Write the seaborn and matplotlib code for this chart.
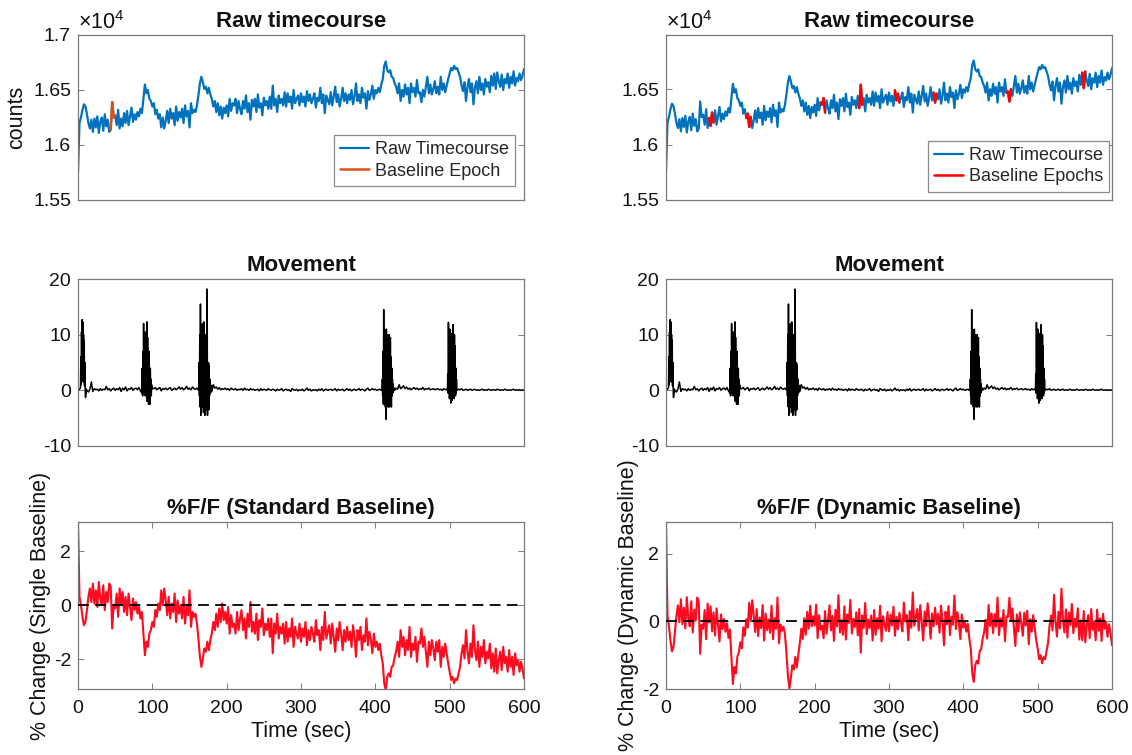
import numpy as np
import pandas as pd
import matplotlib
matplotlib.use("Agg")
import matplotlib.pyplot as plt
import seaborn as sns
from matplotlib.ticker import FuncFormatter

# ---------------- data ----------------
time_step = 2.0  # seconds between samples

raw_counts = [
    15750, 16200, 16250, 16320, 16370, 16350, 16280, 16200, 16150, 16230,
    16120, 16240, 16160, 16260, 16110, 16210, 16250, 16130, 16280, 16170,
    16230, 16120, 16140, 16390, 16250, 16270, 16180, 16320, 16150, 16240,
    16170, 16290, 16200, 16310, 16180, 16260, 16340, 16210, 16280, 16230,
    16300, 16260, 16330, 16290, 16420, 16550, 16470, 16500, 16420, 16400,
    16350, 16380, 16280, 16320, 16240, 16280, 16160, 16250, 16150, 16220,
    16310, 16200, 16330, 16240, 16290, 16180, 16350, 16220, 16300, 16250,
    16330, 16200, 16360, 16260, 16310, 16160, 16380, 16290, 16320, 16300,
    16360, 16450, 16560, 16620, 16570, 16510, 16530, 16470, 16520, 16460,
    16420, 16350, 16400, 16300, 16380, 16270, 16350, 16240, 16340, 16290,
    16360, 16260, 16420, 16310, 16380, 16360, 16420, 16290, 16400, 16330,
    16280, 16400, 16330, 16450, 16300, 16380, 16230, 16410, 16350, 16420,
    16300, 16460, 16340, 16380, 16270, 16430, 16360, 16400, 16330, 16440,
    16330, 16540, 16360, 16420, 16300, 16450, 16380, 16420, 16360, 16480,
    16350, 16470, 16390, 16440, 16330, 16500, 16380, 16420, 16450, 16360,
    16470, 16390, 16440, 16350, 16490, 16400, 16460, 16380, 16420, 16470,
    16340, 16430, 16400, 16520, 16380, 16460, 16290, 16450, 16410, 16370,
    16480, 16360, 16440, 16530, 16390, 16460, 16350, 16420, 16520, 16400,
    16470, 16380, 16460, 16410, 16500, 16370, 16440, 16560, 16400, 16460,
    16380, 16520, 16430, 16470, 16330, 16490, 16410, 16460, 16540, 16420,
    16500, 16470, 16520, 16480, 16550, 16600, 16720, 16760, 16680, 16660,
    16680, 16620, 16610, 16560, 16530, 16470, 16560, 16400, 16500, 16440,
    16550, 16460, 16520, 16380, 16560, 16480, 16520, 16440, 16590, 16470,
    16480, 16390, 16500, 16440, 16530, 16620, 16470, 16550, 16460, 16510,
    16580, 16470, 16530, 16460, 16620, 16500, 16560, 16480, 16540, 16600,
    16650, 16700, 16680, 16720, 16690, 16700, 16660, 16620, 16540, 16490,
    16570, 16400, 16530, 16600, 16480, 16560, 16370, 16520, 16580, 16470,
    16620, 16500, 16560, 16460, 16600, 16530, 16570, 16480, 16630, 16540,
    16650, 16510, 16660, 16580, 16530, 16640, 16500, 16600, 16560, 16650,
    16520, 16620, 16560, 16670, 16540, 16610, 16580, 16650, 16590, 16630,
    16690,
]

dff_standard = [
    3.08, 0.31, 0.00, -0.43, -0.74, -0.62, -0.18, 0.31, 0.62, 0.12,
    0.80, 0.06, 0.55, -0.06, 0.86, 0.25, 0.00, 0.74, -0.18, 0.49,
    0.12, 0.80, 0.68, -0.86, 0.00, -0.12, 0.43, -0.43, 0.62, 0.06,
    0.49, -0.25, 0.31, -0.37, 0.43, -0.06, -0.55, 0.25, -0.18, 0.12,
    -0.31, -0.06, -0.49, -0.25, -1.05, -1.85, -1.35, -1.54, -1.05, -0.92,
    -0.62, -0.80, -0.18, -0.43, 0.06, -0.18, 0.55, 0.00, 0.62, 0.18,
    -0.37, 0.31, -0.49, 0.06, -0.25, 0.43, -0.62, 0.18, -0.31, 0.00,
    -0.49, 0.31, -0.68, -0.06, -0.37, 0.55, -0.80, -0.25, -0.43, -0.31,
    -0.68, -1.23, -1.91, -2.28, -1.97, -1.60, -1.72, -1.35, -1.66, -1.29,
    -1.05, -0.62, -0.92, -0.31, -0.80, -0.12, -0.62, 0.06, -0.55, -0.25,
    -0.68, -0.06, -1.05, -0.37, -0.80, -0.68, -1.05, -0.25, -0.92, -0.49,
    -0.18, -0.92, -0.49, -1.23, -0.31, -0.80, 0.12, -0.98, -0.62, -1.05,
    -0.31, -1.29, -0.55, -0.80, -0.12, -1.11, -0.68, -0.92, -0.49, -1.17,
    -0.49, -1.78, -0.68, -1.05, -0.31, -1.23, -0.80, -1.05, -0.68, -1.42,
    -0.62, -1.35, -0.86, -1.17, -0.49, -1.54, -0.80, -1.05, -1.23, -0.68,
    -1.35, -0.86, -1.17, -0.62, -1.48, -0.92, -1.29, -0.80, -1.05, -1.35,
    -0.55, -1.11, -0.92, -1.66, -0.80, -1.29, -0.25, -1.23, -0.98, -0.74,
    -1.42, -0.68, -1.17, -1.72, -0.86, -1.29, -0.62, -1.05, -1.66, -0.92,
    -1.35, -0.80, -1.29, -0.98, -1.54, -0.74, -1.17, -1.91, -0.92, -1.29,
    -0.80, -1.66, -1.11, -1.35, -0.49, -1.48, -0.98, -1.29, -1.78, -1.05,
    -1.54, -1.35, -1.66, -1.42, -1.85, -2.15, -2.89, -3.14, -2.65, -2.52,
    -2.65, -2.28, -2.22, -1.91, -1.72, -1.35, -1.91, -0.92, -1.54, -1.17,
    -1.85, -1.29, -1.66, -0.80, -1.91, -1.42, -1.66, -1.17, -2.09, -1.35,
    -1.42, -0.86, -1.54, -1.17, -1.72, -2.28, -1.35, -1.85, -1.29, -1.60,
    -2.03, -1.35, -1.72, -1.29, -2.28, -1.54, -1.91, -1.42, -1.78, -2.15,
    -2.46, -2.77, -2.65, -2.89, -2.71, -2.77, -2.52, -2.28, -1.78, -1.48,
    -1.97, -0.92, -1.72, -2.15, -1.42, -1.91, -0.74, -1.66, -2.03, -1.35,
    -2.28, -1.54, -1.91, -1.29, -2.15, -1.72, -1.97, -1.42, -2.34, -1.78,
    -2.46, -1.60, -2.52, -2.03, -1.72, -2.40, -1.54, -2.15, -1.91, -2.46,
    -1.66, -2.28, -1.91, -2.58, -1.78, -2.22, -2.03, -2.46, -2.09, -2.34,
    -2.71,
]

dff_dynamic = [
    2.93, 0.16, -0.15, -0.58, -0.89, -0.77, -0.33, 0.16, 0.47, -0.03,
    0.65, -0.09, 0.40, -0.21, 0.71, 0.10, -0.15, 0.59, -0.33, 0.34,
    0.02, 0.70, 0.58, -0.96, -0.10, -0.22, 0.33, -0.53, 0.52, -0.04,
    0.44, -0.30, 0.26, -0.42, 0.38, -0.11, -0.60, 0.20, -0.23, 0.07,
    -0.31, -0.06, -0.49, -0.25, -1.05, -1.85, -1.35, -1.54, -1.05, -0.92,
    -0.62, -0.80, -0.18, -0.43, 0.06, -0.18, 0.55, 0.00, 0.62, 0.18,
    -0.32, 0.36, -0.44, 0.11, -0.20, 0.48, -0.57, 0.23, -0.26, 0.05,
    -0.34, 0.46, -0.53, 0.09, -0.22, 0.70, -0.65, -0.10, -0.28, -0.16,
    -0.38, -0.93, -1.61, -1.98, -1.67, -1.30, -1.42, -1.05, -1.36, -0.99,
    -0.65, -0.22, -0.52, 0.09, -0.40, 0.28, -0.22, 0.46, -0.15, 0.15,
    -0.13, 0.49, -0.50, 0.18, -0.25, -0.13, -0.50, 0.30, -0.37, 0.06,
    0.47, -0.27, 0.16, -0.58, 0.34, -0.15, 0.77, -0.33, 0.03, -0.40,
    0.44, -0.54, 0.20, -0.05, 0.63, -0.36, 0.07, -0.17, 0.26, -0.42,
    0.36, -0.93, 0.17, -0.20, 0.54, -0.38, 0.05, -0.20, 0.17, -0.57,
    0.33, -0.40, 0.09, -0.22, 0.46, -0.59, 0.15, -0.10, -0.28, 0.27,
    -0.30, 0.19, -0.12, 0.43, -0.43, 0.13, -0.24, 0.25, 0.00, -0.30,
    0.55, -0.01, 0.18, -0.56, 0.30, -0.19, 0.85, -0.13, 0.12, 0.36,
    -0.27, 0.47, -0.02, -0.57, 0.29, -0.14, 0.53, 0.10, -0.51, 0.23,
    -0.15, 0.40, -0.09, 0.22, -0.34, 0.46, 0.03, -0.71, 0.28, -0.09,
    0.45, -0.41, 0.14, -0.10, 0.76, -0.23, 0.27, -0.04, -0.53, 0.20,
    -0.19, 0.00, -0.31, -0.07, -0.50, -0.80, -1.54, -1.79, -1.30, -1.17,
    -1.25, -0.88, -0.82, -0.51, -0.32, 0.05, -0.51, 0.48, -0.14, 0.23,
    -0.35, 0.21, -0.16, 0.70, -0.41, 0.08, -0.16, 0.33, -0.59, 0.15,
    0.13, 0.69, 0.01, 0.38, -0.17, -0.73, 0.20, -0.30, 0.26, -0.05,
    -0.43, 0.25, -0.12, 0.31, -0.68, 0.06, -0.31, 0.18, -0.18, -0.55,
    -0.81, -1.12, -1.00, -1.24, -1.06, -1.12, -0.87, -0.63, -0.13, 0.17,
    -0.27, 0.78, -0.02, -0.45, 0.28, -0.21, 0.96, 0.04, -0.33, 0.35,
    -0.48, 0.26, -0.11, 0.51, -0.35, 0.08, -0.17, 0.38, -0.54, 0.02,
    -0.56, 0.30, -0.62, -0.13, 0.18, -0.50, 0.36, -0.25, -0.01, -0.56,
    0.34, -0.28, 0.09, -0.58, 0.22, -0.22, -0.03, -0.46, -0.09, -0.34,
    -0.71,
]

movement_base = [
    0.0, 0.2, 0.0, 0.0, 0.0, 0.0, 0.1, -0.3, 0.2, 1.5,
    -0.2, 0.3, 0.1, 0.2, -0.1, 0.3, 0.0, 0.2, 0.1, 0.7,
    0.1, 0.3, -0.1, 0.2, 0.4, 0.0, 0.3, 0.1, 0.5, -0.2,
    0.4, 0.1, 0.6, -0.1, 0.3, 0.2, 0.5, 0.0, 0.3, 0.4,
    0.1, 0.5, -0.1, 0.3, 0.0, 0.0, 0.0, 0.0, 0.0, 0.0,
    0.8, 0.3, 0.5, 0.1, 0.3, 0.5, -0.1, 0.3, 0.2, 0.4,
    0.1, 0.3, 0.5, 0.0, 0.2, 0.4, 0.1, 0.3, 0.6, 0.2,
    0.5, 0.1, 0.3, 0.7, 0.2, 0.4, 0.1, 0.6, 0.3, 0.2,
    0.4, 0.1, 0.0, 0.0, 0.0, 0.0, 0.0, 0.0, 0.0, 0.0,
    0.3, 1.0, 0.4, 0.6, 0.2, 0.5, 0.1, 0.3, 0.2, 0.4,
    0.1, 0.3, 0.0, 0.4, 0.2, 0.1, 0.3, 0.0, 0.2, 0.1,
    0.3, 0.0, 0.4, 0.1, 0.2, 0.0, 0.3, 0.1, 0.2, 0.0,
    0.1, 0.2, -0.1, 0.3, 0.0, 0.2, 0.1, 0.0, 0.3, 0.1,
    0.0, 0.2, 0.1, -0.1, 0.2, 0.0, 0.1, 0.3, -0.1, 0.1,
    0.2, 0.0, 0.1, -0.2, 0.3, 0.1, 0.0, 0.2, -0.1, 0.1,
    0.0, 0.2, -0.1, 0.1, 0.4, 0.0, 0.2, -0.1, 0.1, 0.0,
    0.1, -0.1, 0.2, 0.0, 0.3, -0.1, 0.1, 0.2, 0.0, 0.1,
    0.2, 0.0, 0.1, 0.3, -0.1, 0.2, 0.0, 0.1, 0.2, -0.1,
    0.1, 0.3, 0.0, 0.2, -0.1, 0.1, 0.2, 0.0, 0.1, 0.3,
    0.0, 0.2, 0.1, -0.1, 0.2, 0.4, 0.0, 0.1, 0.3, 0.1,
    0.2, 0.0, 0.1, 0.2, 0.0, 0.0, 0.0, 0.0, 0.0, 0.0,
    0.0, 0.0, 0.0, 0.0, 0.4, 0.2, 1.0, 0.3, 0.5, 0.8,
    0.3, 0.6, 0.2, 0.4, 0.1, 0.3, 0.5, 0.2, 0.4, 0.1,
    0.3, 0.2, 0.5, 0.1, 0.3, 0.2, 0.4, 0.1, 0.2, 0.3,
    0.1, 0.2, 0.3, 0.1, 0.2, 0.0, 0.3, 0.1, 0.2, 0.1,
    0.0, 0.0, 0.0, 0.0, 0.0, 0.0, 0.2, 0.1, 0.3, 0.0,
    0.1, 0.2, 0.0, 0.1, 0.2, 0.0, 0.1, 0.2, 0.0, 0.1,
    0.0, 0.1, 0.2, 0.0, 0.1, 0.0, 0.2, 0.1, 0.0, 0.1,
    0.1, 0.0, 0.2, 0.1, 0.0, 0.1, 0.0, 0.2, 0.1, 0.0,
    0.1, 0.0, 0.1, 0.2, 0.0, 0.1, 0.0, 0.1, 0.0, 0.1,
    0.0,
]

burst_step = 0.45
burst_starts = [3.4, 86.0, 162.5, 409.0, 497.0]
burst_a = [0.5, 6, 1, 10.5, 2, 12.7, 3, 12.3, 1.5, 10, 2, 9, 0.8, 5, 0.2, -1.3, 0.3, -0.5, 0.1]
burst_b = [-0.5, 4, -1, 7, 0.5, 12, -0.5, 9, 2, 10.5, -1, 6, 3, 8, 0, 12.3, -2, 9.5, -1.5, 5,
           -2.5, 7, 0, 3, -2.5, 4, 1, 2, -1, 1, 0.3]
burst_c = [0, 5, -1, 10, -3, 15.5, -4.5, 11, -2, 9, -3, 12, -1, 10.5, -4, 12.3, -2, 8, -4.5, 6,
           -3, 10, -1, 8, -3.5, 18.2, -4.5, 3, -2, 5, -3.5, 4.5, -1, 2, -0.5, 1, 0, 0.5, -0.3, 0.8, 0]
burst_d = [0, 2, -1, 7, -2.5, 14.5, -1, 11, 3, 10.5, -3, 9, -5.2, 11, -2, 10, -1, 9.5, -3, 8,
           -1.5, 10, -3, 7, -1, 9.5, -2, 6, -3, 4, -1, 2, -0.5, 1.2, 0, 0.5, 0]
burst_e = [0, 3, -0.5, 12.2, 1, 9, -1.5, 11, 0, 10, -2.3, 8, -1, 10.2, -1.8, 9, 0.5, 11.8, 0, 7,
           -1.5, 10, -0.5, 8, -1, 4, -0.5, 2, 0.3, 0]
burst_values = [burst_a, burst_b, burst_c, burst_d, burst_e]

epoch_single = [(44, 50)]
epochs_dynamic = [(58, 64), (108, 114), (208, 214), (260, 264), (308, 314),
                  (360, 364), (458, 464), (560, 564)]

# ---------------- assemble tables ----------------
t = np.arange(len(raw_counts)) * time_step
df = pd.DataFrame({"t": t, "raw": np.array(raw_counts) / 1e4,
                   "std": dff_standard, "dyn": dff_dynamic})

keep = np.ones(len(t), bool)
bt, bv = [], []
for s, vals in zip(burst_starts, burst_values):
    tt = s + burst_step * np.arange(len(vals))
    keep &= ~((t >= tt[0] - 0.5) & (t <= tt[-1] + 0.5))
    bt.extend(tt)
    bv.extend(vals)
mov = pd.DataFrame({"t": np.concatenate([t[keep], bt]),
                    "v": np.concatenate([np.array(movement_base)[keep], bv])})
mov = mov.sort_values("t").reset_index(drop=True)

# ---------------- style ----------------
sns.set_theme(style="ticks")
plt.rcParams["font.family"] = ["Liberation Sans", "DejaVu Sans"]
plt.rcParams["axes.unicode_minus"] = False
plt.rcParams["mathtext.fontset"] = "custom"
plt.rcParams["mathtext.rm"] = "Liberation Sans"
plt.rcParams["mathtext.it"] = "Liberation Sans"

BLUE = "#0072BD"
ORANGE = "#D95319"
RED = "#FF0000"
TRACE_RED = "#FF0A1E"
EDGE = "#7a7a7a"
TXT = "#111111"

fig, axes = plt.subplots(3, 2, figsize=(11.32, 7.55), dpi=100)

colx = [78 / 1132, 666 / 1132]
w = 446 / 1132
rows = [((755 - 200) / 755, 165 / 755),
        ((755 - 446) / 755, 167 / 755),
        ((755 - 689) / 755, 167 / 755)]
for r in range(3):
    for c in range(2):
        axes[r, c].set_position([colx[c], rows[r][0], w, rows[r][1]])

fmt = FuncFormatter(lambda v, p: f"{v:g}")


def style_ax(ax, show_x):
    for sp in ax.spines.values():
        sp.set_visible(True)
        sp.set_color(EDGE)
        sp.set_linewidth(0.9)
    ax.tick_params(direction="in", length=4, width=0.7, color=EDGE,
                   labelsize=14, labelcolor=TXT, top=True, right=True, pad=5)
    ax.tick_params(axis="x", pad=8)
    ax.set_xlim(0, 600)
    ax.yaxis.set_major_formatter(fmt)
    if show_x:
        ax.set_xticks([0, 100, 200, 300, 400, 500, 600])
        ax.set_xlabel("Time (sec)", fontsize=15.5, color=TXT, labelpad=3)
    else:
        ax.set_xticks([])
        ax.set_xlabel("")


# ---- Row 1: raw timecourse ----
for c, (epochs, ecol, elabel) in enumerate([(epoch_single, ORANGE, "Baseline Epoch"),
                                            (epochs_dynamic, RED, "Baseline Epochs")]):
    ax = axes[0, c]
    sns.lineplot(data=df, x="t", y="raw", ax=ax, color=BLUE, linewidth=1.6,
                 estimator=None, sort=False, label="Raw Timecourse")
    for i, (a, b) in enumerate(epochs):
        seg = df[(df.t >= a) & (df.t <= b)]
        sns.lineplot(data=seg, x="t", y="raw", ax=ax, color=ecol, linewidth=1.8,
                     estimator=None, sort=False, label=elabel if i == 0 else None)
    style_ax(ax, False)
    ax.set_ylabel("counts" if c == 0 else "", fontsize=15.5, color=TXT)
    if c == 0:
        ax.set_ylim(1.55, 1.70)
        ax.set_yticks([1.55, 1.6, 1.65, 1.7])
        anchor = (0.98, 0.085)
    else:
        ax.set_ylim(1.55, 1.699)
        ax.set_yticks([1.55, 1.6, 1.65])
        anchor = (0.994, 0.05)
    ax.set_title("Raw timecourse", fontsize=16, fontweight="bold", color=TXT, pad=6)
    ax.text(0.0, 1.008, r"$\mathregular{\times10^{4}}$", transform=ax.transAxes,
            ha="left", va="bottom", fontsize=15.5, color=TXT)
    leg = ax.legend(loc="lower right", bbox_to_anchor=anchor, borderaxespad=0,
                    fontsize=13, fancybox=False, framealpha=1, edgecolor="#8a8a8a",
                    handlelength=1.6, handletextpad=0.3, borderpad=0.35,
                    labelspacing=0.25)
    leg.get_frame().set_linewidth(0.9)

# ---- Row 2: movement ----
for c in range(2):
    ax = axes[1, c]
    sns.lineplot(data=mov, x="t", y="v", ax=ax, color="black", linewidth=1.1,
                 estimator=None, sort=False)
    style_ax(ax, False)
    ax.set_ylim(-10, 20)
    ax.set_yticks([-10, 0, 10, 20])
    ax.set_ylabel("")
    ax.set_title("Movement", fontsize=16, fontweight="bold", color=TXT, pad=6)

# ---- Row 3: dF/F ----
specs = [("std", "%F/F (Standard Baseline)", "% Change (Single Baseline)", (-3.1, 3.08)),
         ("dyn", "%F/F (Dynamic Baseline)", "% Change (Dynamic Baseline)", (-2.0, 2.93))]
for c, (col, title, ylab, ylim) in enumerate(specs):
    ax = axes[2, c]
    sns.lineplot(data=df, x="t", y=col, ax=ax, color=TRACE_RED, linewidth=1.5,
                 estimator=None, sort=False)
    ax.axhline(0, color="black", linewidth=1.3, linestyle=(0, (6, 3.5)), zorder=5)
    style_ax(ax, True)
    ax.set_ylim(*ylim)
    ax.set_yticks([-2, 0, 2])
    ax.set_ylabel(ylab, fontsize=15.5, color=TXT, labelpad=2)
    ax.set_title(title, fontsize=16, fontweight="bold", color=TXT, pad=6)

fig.savefig("out.png", dpi=100)
